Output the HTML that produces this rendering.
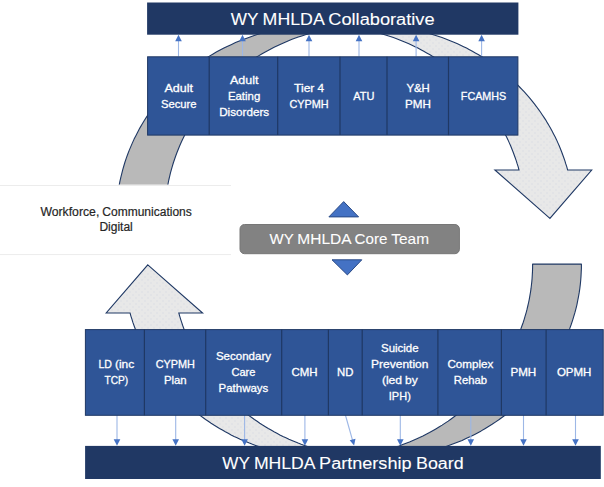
<!DOCTYPE html>
<html lang="en"><head><meta charset="utf-8"><title>WY MHLDA Collaborative</title>
<style>
html,body{margin:0;padding:0;background:#fff;}
body{width:604px;height:487px;overflow:hidden;}
svg{display:block;}
text{font-family:"Liberation Sans",sans-serif;}
.w{fill:#fff;stroke:#fff;stroke-width:0.3;}
</style></head><body>
<svg width="604" height="487" viewBox="0 0 604 487">
<defs>
<pattern id="dots" width="6" height="6" patternUnits="userSpaceOnUse">
<rect width="6" height="6" fill="#E8E8E8"/><rect x="0.5" y="0.5" width="1" height="1" fill="#D0D5E0"/><rect x="3.5" y="3.5" width="1" height="1" fill="#D0D5E0"/>
</pattern>
</defs>
<rect width="604" height="487" fill="#fff"/>
<polygon points="549.9,218.4 494.9,170.0 519.0,170.0 518.2,166.9 517.2,163.9 516.3,160.8 515.2,157.8 514.1,154.8 513.0,151.8 511.8,148.8 510.6,145.8 509.3,142.9 508.0,139.9 506.6,137.0 505.1,134.2 503.6,131.3 502.1,128.5 500.5,125.7 498.8,122.9 497.2,120.1 495.4,117.4 493.6,114.7 491.8,112.0 489.9,109.4 488.0,106.8 486.0,104.2 484.0,101.6 482.0,99.1 479.9,96.6 477.7,94.1 475.5,91.7 473.3,89.3 471.0,87.0 468.7,84.7 466.4,82.4 464.0,80.1 461.5,77.9 459.1,75.7 456.6,73.6 454.0,71.5 451.4,69.5 448.8,67.5 446.2,65.5 443.5,63.6 440.8,61.7 438.0,59.8 435.3,58.0 432.4,56.3 429.6,54.5 426.7,52.9 423.8,51.3 420.9,49.7 417.9,48.1 415.0,46.7 412.0,45.2 408.9,43.8 405.9,42.5 402.8,41.2 399.7,39.9 396.6,38.7 393.4,37.6 390.3,36.5 387.1,35.4 383.9,34.4 380.7,33.4 377.4,32.5 374.2,31.7 370.9,30.9 367.6,30.1 364.4,29.4 361.1,28.8 357.7,28.2 354.4,27.6 351.1,27.1 347.7,26.7 344.4,26.3 341.0,25.9 337.7,25.7 334.3,25.4 331.0,25.2 327.6,25.1 324.2,25.0 320.9,25.0 369.4,25.0 372.8,25.0 376.2,25.1 379.6,25.2 382.9,25.4 386.3,25.7 389.6,25.9 393.0,26.3 396.3,26.7 399.7,27.1 403.0,27.6 406.3,28.2 409.7,28.8 413.0,29.4 416.2,30.1 419.5,30.9 422.8,31.7 426.0,32.5 429.3,33.4 432.5,34.4 435.7,35.4 438.9,36.5 442.0,37.6 445.2,38.7 448.3,39.9 451.4,41.2 454.5,42.5 457.5,43.8 460.6,45.2 463.6,46.7 466.5,48.1 469.5,49.7 472.4,51.3 475.3,52.9 478.2,54.5 481.0,56.3 483.9,58.0 486.6,59.8 489.4,61.7 492.1,63.6 494.8,65.5 497.4,67.5 500.0,69.5 502.6,71.5 505.2,73.6 507.7,75.7 510.1,77.9 512.6,80.1 515.0,82.4 517.3,84.7 519.6,87.0 521.9,89.3 524.1,91.7 526.3,94.1 528.5,96.6 530.6,99.1 532.6,101.6 534.6,104.2 536.6,106.8 538.5,109.4 540.4,112.0 542.2,114.7 544.0,117.4 545.8,120.1 547.4,122.9 549.1,125.7 550.7,128.5 552.2,131.3 553.7,134.2 555.2,137.0 556.6,139.9 557.9,142.9 559.2,145.8 560.4,148.8 561.6,151.8 562.7,154.8 563.8,157.8 564.9,160.8 565.8,163.9 566.8,166.9 567.6,170.0 591.7,170.0" fill="url(#dots)" stroke="#1F3864" stroke-width="1.1" stroke-linejoin="miter"/>
<polygon points="116.2,218.4 116.2,214.3 116.3,210.2 116.6,206.2 116.9,202.1 117.3,198.0 117.8,194.0 118.4,189.9 119.1,185.9 119.8,181.9 120.7,177.9 121.7,173.9 122.7,169.9 123.8,166.0 125.0,162.0 126.3,158.1 127.7,154.3 129.2,150.4 130.8,146.6 132.4,142.9 134.1,139.1 136.0,135.4 137.9,131.7 139.8,128.1 141.9,124.5 144.0,121.0 146.3,117.4 148.5,114.0 150.9,110.6 153.4,107.2 155.9,103.9 158.5,100.6 161.2,97.4 163.9,94.2 166.7,91.1 169.6,88.1 172.5,85.1 175.5,82.2 178.6,79.3 181.8,76.5 185.0,73.8 188.2,71.1 191.6,68.5 194.9,65.9 198.4,63.4 201.9,61.0 205.4,58.7 209.0,56.4 212.7,54.2 216.3,52.1 220.1,50.1 223.9,48.1 227.7,46.2 231.6,44.4 235.5,42.6 239.4,41.0 243.4,39.4 247.4,37.9 251.5,36.4 255.6,35.1 259.7,33.8 263.8,32.7 268.0,31.6 272.2,30.5 276.4,29.6 280.6,28.8 284.9,28.0 289.1,27.3 293.4,26.7 297.7,26.2 302.0,25.8 306.3,25.5 310.6,25.2 314.9,25.1 319.3,25.0 323.6,25.0 327.9,25.1 332.2,25.3 336.5,25.6 340.9,25.9 345.1,26.4 345.1,26.4 341.5,26.8 337.8,27.3 334.1,27.9 330.5,28.5 326.8,29.2 323.2,30.0 319.6,30.8 316.0,31.7 312.4,32.7 308.9,33.7 305.3,34.7 301.8,35.9 298.3,37.1 294.8,38.3 291.4,39.6 288.0,41.0 284.6,42.4 281.2,43.9 277.9,45.4 274.6,47.0 271.3,48.7 268.1,50.4 264.8,52.2 261.7,54.0 258.5,55.9 255.4,57.8 252.4,59.8 249.3,61.8 246.3,63.9 243.4,66.0 240.5,68.2 237.6,70.4 234.8,72.7 232.0,75.1 229.3,77.4 226.6,79.9 224.0,82.3 221.4,84.9 218.8,87.4 216.4,90.0 213.9,92.7 211.5,95.4 209.2,98.1 206.9,100.8 204.7,103.7 202.5,106.5 200.4,109.4 198.3,112.3 196.3,115.2 194.3,118.2 192.4,121.3 190.6,124.3 188.8,127.4 187.1,130.5 185.5,133.6 183.9,136.8 182.3,140.0 180.8,143.2 179.4,146.5 178.1,149.7 176.8,153.0 175.6,156.3 174.4,159.7 173.3,163.0 172.3,166.4 171.3,169.8 170.4,173.2 169.6,176.6 168.8,180.0 168.1,183.5 167.5,187.0 166.9,190.4 166.4,193.9 166.0,197.4 165.6,200.9 165.3,204.4 165.1,207.9 164.9,211.4 164.8,214.9 164.8,218.4" fill="#B9B9B9" stroke="#1F3864" stroke-width="1.1" stroke-linejoin="round"/>
<polygon points="147.8,264.9 202.6,313.0 178.8,313.0 179.7,316.1 180.6,319.1 181.6,322.2 182.6,325.2 183.7,328.2 184.9,331.2 186.1,334.2 187.3,337.2 188.6,340.1 189.9,343.1 191.3,346.0 192.8,348.8 194.3,351.7 195.8,354.5 197.4,357.3 199.1,360.1 200.7,362.9 202.5,365.6 204.3,368.3 206.1,371.0 208.0,373.6 209.9,376.3 211.9,378.8 213.9,381.4 215.9,383.9 218.0,386.4 220.2,388.9 222.4,391.3 224.6,393.7 226.9,396.0 229.2,398.4 231.5,400.6 233.9,402.9 236.3,405.1 238.8,407.3 241.3,409.4 243.9,411.5 246.4,413.5 249.0,415.6 251.7,417.5 254.4,419.5 257.1,421.3 259.8,423.2 262.6,425.0 265.4,426.7 268.3,428.5 271.1,430.1 274.0,431.8 276.9,433.3 279.9,434.9 282.9,436.4 285.9,437.8 288.9,439.2 291.9,440.5 295.0,441.8 298.1,443.1 301.2,444.3 304.4,445.4 307.5,446.5 310.7,447.6 313.9,448.6 317.1,449.6 320.3,450.5 323.6,451.3 326.8,452.1 330.1,452.9 333.4,453.6 336.7,454.2 340.0,454.8 343.3,455.4 346.6,455.9 350.0,456.3 353.3,456.7 356.6,457.1 360.0,457.3 363.3,457.6 366.7,457.8 370.1,457.9 373.4,458.0 376.8,458.0 328.0,458.0 324.7,458.0 321.3,457.9 318.0,457.8 314.6,457.6 311.2,457.3 307.9,457.1 304.5,456.7 301.2,456.3 297.9,455.9 294.5,455.4 291.2,454.8 287.9,454.2 284.6,453.6 281.4,452.9 278.1,452.1 274.8,451.3 271.6,450.5 268.4,449.6 265.1,448.6 262.0,447.6 258.8,446.5 255.6,445.4 252.5,444.3 249.4,443.1 246.3,441.8 243.2,440.5 240.1,439.2 237.1,437.8 234.1,436.4 231.1,434.9 228.2,433.3 225.3,431.8 222.4,430.1 219.5,428.5 216.7,426.7 213.9,425.0 211.1,423.2 208.3,421.3 205.6,419.5 202.9,417.5 200.3,415.6 197.7,413.5 195.1,411.5 192.6,409.4 190.1,407.3 187.6,405.1 185.2,402.9 182.8,400.6 180.4,398.4 178.1,396.0 175.9,393.7 173.6,391.3 171.4,388.9 169.3,386.4 167.2,383.9 165.1,381.4 163.1,378.8 161.2,376.3 159.2,373.6 157.3,371.0 155.5,368.3 153.7,365.6 152.0,362.9 150.3,360.1 148.7,357.3 147.1,354.5 145.5,351.7 144.0,348.8 142.6,346.0 141.2,343.1 139.8,340.1 138.5,337.2 137.3,334.2 136.1,331.2 135.0,328.2 133.9,325.2 132.8,322.2 131.9,319.1 130.9,316.1 130.1,313.0 106.2,313.0" fill="url(#dots)" stroke="#1F3864" stroke-width="1.1" stroke-linejoin="miter"/>
<polygon points="581.4,264.1 581.4,268.2 581.2,272.3 581.0,276.4 580.7,280.5 580.3,284.5 579.8,288.6 579.2,292.7 578.5,296.7 577.7,300.7 576.9,304.8 575.9,308.8 574.9,312.7 573.7,316.7 572.5,320.6 571.2,324.5 569.8,328.4 568.3,332.3 566.8,336.1 565.1,339.9 563.4,343.6 561.6,347.3 559.7,351.0 557.7,354.7 555.7,358.3 553.5,361.8 551.3,365.3 549.0,368.8 546.6,372.2 544.2,375.6 541.7,378.9 539.1,382.2 536.4,385.4 533.7,388.6 530.8,391.7 528.0,394.8 525.0,397.8 522.0,400.7 518.9,403.6 515.8,406.4 512.6,409.1 509.3,411.8 506.0,414.5 502.6,417.0 499.2,419.5 495.7,421.9 492.1,424.3 488.5,426.5 484.9,428.7 481.2,430.9 477.5,432.9 473.7,434.9 469.9,436.8 466.0,438.6 462.1,440.4 458.1,442.0 454.1,443.6 450.1,445.1 446.1,446.5 442.0,447.9 437.9,449.2 433.7,450.3 429.6,451.4 425.4,452.5 421.2,453.4 416.9,454.2 412.7,455.0 408.4,455.7 404.2,456.3 399.9,456.8 395.6,457.2 391.3,457.5 386.9,457.8 382.6,457.9 378.3,458.0 374.0,458.0 369.7,457.9 365.3,457.7 361.0,457.4 356.7,457.1 352.4,456.6 352.4,456.6 356.1,456.2 359.8,455.7 363.4,455.1 367.1,454.4 370.7,453.7 374.3,453.0 378.0,452.1 381.5,451.3 385.1,450.3 388.7,449.3 392.2,448.2 395.7,447.1 399.2,445.9 402.7,444.6 406.1,443.3 409.5,442.0 412.9,440.5 416.3,439.0 419.6,437.5 422.9,435.9 426.2,434.2 429.5,432.5 432.7,430.7 435.8,428.9 439.0,427.0 442.1,425.1 445.1,423.1 448.2,421.1 451.1,419.0 454.1,416.8 457.0,414.6 459.9,412.4 462.7,410.1 465.4,407.8 468.2,405.4 470.9,403.0 473.5,400.5 476.1,398.0 478.6,395.4 481.1,392.8 483.5,390.1 485.9,387.4 488.3,384.7 490.5,381.9 492.8,379.1 494.9,376.3 497.1,373.4 499.1,370.5 501.1,367.5 503.1,364.5 505.0,361.5 506.8,358.4 508.6,355.3 510.3,352.2 512.0,349.1 513.6,345.9 515.1,342.7 516.6,339.5 518.0,336.2 519.3,332.9 520.6,329.6 521.8,326.3 523.0,323.0 524.1,319.6 525.1,316.2 526.1,312.8 527.0,309.4 527.8,306.0 528.6,302.5 529.3,299.1 529.9,295.6 530.5,292.1 531.0,288.7 531.4,285.2 531.8,281.7 532.1,278.2 532.3,274.6 532.5,271.1 532.6,267.6 532.6,264.1" fill="#B9B9B9" stroke="#1F3864" stroke-width="1.1" stroke-linejoin="round"/>
<line x1="178.5" y1="56.5" x2="178.5" y2="40" stroke="#9DB7E6" stroke-width="1.1"/>
<polygon points="178.5,34.7 175.2,41.2 181.8,41.2" fill="#4472C4"/>
<line x1="242.5" y1="56.5" x2="242.5" y2="40" stroke="#9DB7E6" stroke-width="1.1"/>
<polygon points="242.5,34.7 239.2,41.2 245.8,41.2" fill="#4472C4"/>
<line x1="309.0" y1="56.5" x2="309.0" y2="40" stroke="#9DB7E6" stroke-width="1.1"/>
<polygon points="309.0,34.7 305.7,41.2 312.3,41.2" fill="#4472C4"/>
<line x1="359.0" y1="56.5" x2="359.0" y2="40" stroke="#9DB7E6" stroke-width="1.1"/>
<polygon points="359.0,34.7 355.7,41.2 362.3,41.2" fill="#4472C4"/>
<line x1="416.1" y1="56.5" x2="416.1" y2="40" stroke="#9DB7E6" stroke-width="1.1"/>
<polygon points="416.1,34.7 412.8,41.2 419.4,41.2" fill="#4472C4"/>
<line x1="481.6" y1="56.5" x2="481.6" y2="40" stroke="#9DB7E6" stroke-width="1.1"/>
<polygon points="481.6,34.7 478.3,41.2 484.9,41.2" fill="#4472C4"/>
<line x1="117.0" y1="415" x2="117.0" y2="440.5" stroke="#9DB7E6" stroke-width="1.1"/>
<polygon points="117.0,445.7 113.7,439.2 120.3,439.2" fill="#4472C4"/>
<line x1="175.7" y1="415" x2="175.7" y2="440.5" stroke="#9DB7E6" stroke-width="1.1"/>
<polygon points="175.7,445.7 172.4,439.2 179.0,439.2" fill="#4472C4"/>
<line x1="244.6" y1="415" x2="244.6" y2="440.5" stroke="#9DB7E6" stroke-width="1.1"/>
<polygon points="244.6,445.7 241.3,439.2 247.9,439.2" fill="#4472C4"/>
<line x1="304.9" y1="415" x2="304.9" y2="440.5" stroke="#9DB7E6" stroke-width="1.1"/>
<polygon points="304.9,445.7 301.6,439.2 308.2,439.2" fill="#4472C4"/>
<line x1="400.3" y1="415" x2="400.3" y2="440.5" stroke="#9DB7E6" stroke-width="1.1"/>
<polygon points="400.3,445.7 397.0,439.2 403.6,439.2" fill="#4472C4"/>
<line x1="470.8" y1="415" x2="470.8" y2="440.5" stroke="#9DB7E6" stroke-width="1.1"/>
<polygon points="470.8,445.7 467.5,439.2 474.1,439.2" fill="#4472C4"/>
<line x1="523.5" y1="415" x2="523.5" y2="440.5" stroke="#9DB7E6" stroke-width="1.1"/>
<polygon points="523.5,445.7 520.2,439.2 526.8,439.2" fill="#4472C4"/>
<line x1="575.5" y1="415" x2="575.5" y2="440.5" stroke="#9DB7E6" stroke-width="1.1"/>
<polygon points="575.5,445.7 572.2,439.2 578.8,439.2" fill="#4472C4"/>
<line x1="345.4" y1="415" x2="352.6" y2="440.5" stroke="#9DB7E6" stroke-width="1.1"/>
<polygon points="354.1,445.6 349.7,440.2 355.5,438.8" fill="#4472C4"/>
<rect x="147.1" y="2.5" width="371.3" height="32.2" fill="#203864"/>
<rect x="85.1" y="445.9" width="515.7" height="33.1" fill="#203864"/>
<rect x="147.6" y="56.8" width="370.3" height="78.3" fill="#2F5597" stroke="#1F3864" stroke-width="1"/>
<line x1="209.2" y1="56.8" x2="209.2" y2="135.1" stroke="#1F3864" stroke-width="1.2"/>
<line x1="277.7" y1="56.8" x2="277.7" y2="135.1" stroke="#1F3864" stroke-width="1.2"/>
<line x1="340.0" y1="56.8" x2="340.0" y2="135.1" stroke="#1F3864" stroke-width="1.2"/>
<line x1="387.0" y1="56.8" x2="387.0" y2="135.1" stroke="#1F3864" stroke-width="1.2"/>
<line x1="448.5" y1="56.8" x2="448.5" y2="135.1" stroke="#1F3864" stroke-width="1.2"/>
<text class="w" y="92" font-size="11.5"><tspan x="164.4" textLength="28.5" lengthAdjust="spacingAndGlyphs">Adult</tspan></text>
<text class="w" y="108" font-size="11.5"><tspan x="160.9" textLength="35.6" lengthAdjust="spacingAndGlyphs">Secure</tspan></text>
<text class="w" y="84" font-size="11.5"><tspan x="229.9" textLength="28.5" lengthAdjust="spacingAndGlyphs">Adult</tspan></text>
<text class="w" y="100" font-size="11.5"><tspan x="227.9" textLength="32.4" lengthAdjust="spacingAndGlyphs">Eating</tspan></text>
<text class="w" y="116" font-size="11.5"><tspan x="219.2" textLength="50.0" lengthAdjust="spacingAndGlyphs">Disorders</tspan></text>
<text class="w" y="92" font-size="11.5"><tspan x="294.1" textLength="20.3" lengthAdjust="spacingAndGlyphs">Tier</tspan> <tspan x="317.4" textLength="6.6" lengthAdjust="spacingAndGlyphs">4</tspan></text>
<text class="w" y="108" font-size="11.5"><tspan x="289.5" textLength="39.2" lengthAdjust="spacingAndGlyphs">CYPMH</tspan></text>
<text class="w" y="100" font-size="11.5"><tspan x="353.2" textLength="21.2" lengthAdjust="spacingAndGlyphs">ATU</tspan></text>
<text class="w" y="92" font-size="11.5"><tspan x="406.4" textLength="23.3" lengthAdjust="spacingAndGlyphs">Y&amp;H</tspan></text>
<text class="w" y="108" font-size="11.5"><tspan x="405.1" textLength="25.9" lengthAdjust="spacingAndGlyphs">PMH</tspan></text>
<text class="w" y="100" font-size="11.5"><tspan x="460.8" textLength="45.5" lengthAdjust="spacingAndGlyphs">FCAMHS</tspan></text>
<rect x="85.4" y="329.6" width="517.8" height="85.7" fill="#2F5597" stroke="#1F3864" stroke-width="1"/>
<line x1="144.4" y1="329.6" x2="144.4" y2="415.3" stroke="#1F3864" stroke-width="1.2"/>
<line x1="205.7" y1="329.6" x2="205.7" y2="415.3" stroke="#1F3864" stroke-width="1.2"/>
<line x1="281.7" y1="329.6" x2="281.7" y2="415.3" stroke="#1F3864" stroke-width="1.2"/>
<line x1="328.4" y1="329.6" x2="328.4" y2="415.3" stroke="#1F3864" stroke-width="1.2"/>
<line x1="362.2" y1="329.6" x2="362.2" y2="415.3" stroke="#1F3864" stroke-width="1.2"/>
<line x1="437.9" y1="329.6" x2="437.9" y2="415.3" stroke="#1F3864" stroke-width="1.2"/>
<line x1="501.4" y1="329.6" x2="501.4" y2="415.3" stroke="#1F3864" stroke-width="1.2"/>
<line x1="546.1" y1="329.6" x2="546.1" y2="415.3" stroke="#1F3864" stroke-width="1.2"/>
<text class="w" y="368" font-size="11.5"><tspan x="98.5" textLength="13.5" lengthAdjust="spacingAndGlyphs">LD</tspan> <tspan x="114.9" textLength="19.3" lengthAdjust="spacingAndGlyphs">(inc</tspan></text>
<text class="w" y="384" font-size="11.5"><tspan x="104.5" textLength="23.7" lengthAdjust="spacingAndGlyphs">TCP)</tspan></text>
<text class="w" y="368" font-size="11.5"><tspan x="155.7" textLength="39.2" lengthAdjust="spacingAndGlyphs">CYPMH</tspan></text>
<text class="w" y="384" font-size="11.5"><tspan x="163.9" textLength="22.8" lengthAdjust="spacingAndGlyphs">Plan</tspan></text>
<text class="w" y="360" font-size="11.5"><tspan x="215.9" textLength="55.1" lengthAdjust="spacingAndGlyphs">Secondary</tspan></text>
<text class="w" y="376" font-size="11.5"><tspan x="231.4" textLength="24.0" lengthAdjust="spacingAndGlyphs">Care</tspan></text>
<text class="w" y="392" font-size="11.5"><tspan x="218.6" textLength="49.6" lengthAdjust="spacingAndGlyphs">Pathways</tspan></text>
<text class="w" y="376" font-size="11.5"><tspan x="291.5" textLength="26.1" lengthAdjust="spacingAndGlyphs">CMH</tspan></text>
<text class="w" y="376" font-size="11.5"><tspan x="337.0" textLength="16.4" lengthAdjust="spacingAndGlyphs">ND</tspan></text>
<text class="w" y="352" font-size="11.5"><tspan x="381.0" textLength="37.6" lengthAdjust="spacingAndGlyphs">Suicide</tspan></text>
<text class="w" y="368" font-size="11.5"><tspan x="371.1" textLength="57.3" lengthAdjust="spacingAndGlyphs">Prevention</tspan></text>
<text class="w" y="384" font-size="11.5"><tspan x="381.9" textLength="20.2" lengthAdjust="spacingAndGlyphs">(led</tspan> <tspan x="405.1" textLength="12.7" lengthAdjust="spacingAndGlyphs">by</tspan></text>
<text class="w" y="400" font-size="11.5"><tspan x="388.8" textLength="22.0" lengthAdjust="spacingAndGlyphs">IPH)</tspan></text>
<text class="w" y="368" font-size="11.5"><tspan x="447.4" textLength="45.9" lengthAdjust="spacingAndGlyphs">Complex</tspan></text>
<text class="w" y="384" font-size="11.5"><tspan x="453.8" textLength="33.2" lengthAdjust="spacingAndGlyphs">Rehab</tspan></text>
<text class="w" y="376" font-size="11.5"><tspan x="510.4" textLength="25.9" lengthAdjust="spacingAndGlyphs">PMH</tspan></text>
<text class="w" y="376" font-size="11.5"><tspan x="556.9" textLength="34.5" lengthAdjust="spacingAndGlyphs">OPMH</tspan></text>
<text y="25.0" font-size="17.3" fill="#fff" stroke="#fff" stroke-width="0.1"><tspan x="230.7" textLength="27.4" lengthAdjust="spacingAndGlyphs">WY</tspan> <tspan x="262.6" textLength="61.2" lengthAdjust="spacingAndGlyphs">MHLDA</tspan> <tspan x="328.3" textLength="106.3" lengthAdjust="spacingAndGlyphs">Collaborative</tspan></text>
<text y="469.0" font-size="17.3" fill="#fff" stroke="#fff" stroke-width="0.1"><tspan x="222.3" textLength="27.2" lengthAdjust="spacingAndGlyphs">WY</tspan> <tspan x="253.9" textLength="60.7" lengthAdjust="spacingAndGlyphs">MHLDA</tspan> <tspan x="319.1" textLength="92.4" lengthAdjust="spacingAndGlyphs">Partnership</tspan> <tspan x="416.0" textLength="47.6" lengthAdjust="spacingAndGlyphs">Board</tspan></text>
<rect x="-1" y="184.6" width="232" height="70" fill="#fff"/>
<line x1="0" y1="185.5" x2="231" y2="185.5" stroke="#ECECEC" stroke-width="1"/>
<line x1="0" y1="254.6" x2="231" y2="254.6" stroke="#ECECEC" stroke-width="1"/>
<text y="216.0" font-size="12" fill="#262626" stroke="#262626" stroke-width="0.2"><tspan x="40.4" textLength="58.9" lengthAdjust="spacingAndGlyphs">Workforce,</tspan> <tspan x="102.3" textLength="89.5" lengthAdjust="spacingAndGlyphs">Communications</tspan></text>
<text y="231.0" font-size="12" fill="#262626" stroke="#262626" stroke-width="0.2"><tspan x="99.4" textLength="33.4" lengthAdjust="spacingAndGlyphs">Digital</tspan></text>
<rect x="240" y="224.5" width="219.4" height="29.2" rx="4.5" ry="4.5" fill="#828282" stroke="#777777" stroke-width="1"/>
<text y="244.0" font-size="15.0" fill="#fff" stroke="#fff" stroke-width="0.1"><tspan x="269.5" textLength="23.9" lengthAdjust="spacingAndGlyphs">WY</tspan> <tspan x="297.3" textLength="53.4" lengthAdjust="spacingAndGlyphs">MHLDA</tspan> <tspan x="354.6" textLength="32.8" lengthAdjust="spacingAndGlyphs">Core</tspan> <tspan x="391.3" textLength="37.7" lengthAdjust="spacingAndGlyphs">Team</tspan></text>
<polygon points="343.7,201.6 358.6,216.9 328.9,216.9" fill="#4472C4" stroke="#2A4A86" stroke-width="1"/>
<polygon points="332,259.8 361.8,259.8 347.4,274.9" fill="#4472C4" stroke="#2A4A86" stroke-width="1"/>
</svg></body></html>
